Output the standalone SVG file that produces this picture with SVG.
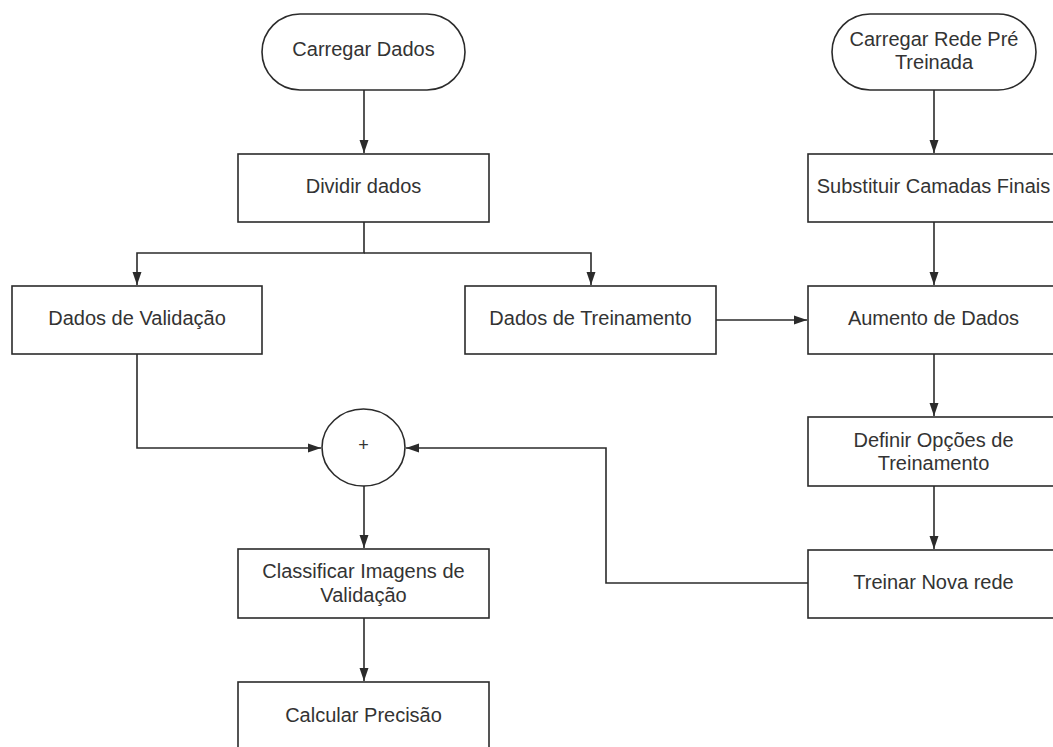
<svg xmlns="http://www.w3.org/2000/svg" width="1053" height="747" viewBox="0 0 1053 747">
<style>
.n{fill:#fff;stroke:#2b2b2b;stroke-width:1.6}
.t{font-family:"Liberation Sans",Arial,sans-serif;font-size:20px;fill:#333;text-anchor:middle}
.c{fill:none;stroke:#2b2b2b;stroke-width:1.6}
</style>
<defs>
<marker id="ah" markerUnits="userSpaceOnUse" markerWidth="14" markerHeight="14" viewBox="0 0 14 14" refX="13" refY="7" orient="auto">
<path d="M0,2.5 L13,7 L0,11.5 Z" fill="#2b2b2b"/>
</marker>
</defs>
<rect width="1053" height="747" fill="#fff"/>
<g id="connectors">
<path class="c" d="M364,90 V153" marker-end="url(#ah)"/>
<path class="c" d="M364,222 V253 H137 V285" marker-end="url(#ah)"/>
<path class="c" d="M364,253 H591 V285" marker-end="url(#ah)"/>
<path class="c" d="M716,320 H807" marker-end="url(#ah)"/>
<path class="c" d="M137,354 V448 H321" marker-end="url(#ah)"/>
<path class="c" d="M808,583 H606 V448 H406" marker-end="url(#ah)"/>
<path class="c" d="M364,486 V548" marker-end="url(#ah)"/>
<path class="c" d="M364,618 V681" marker-end="url(#ah)"/>
<path class="c" d="M934,90 V153" marker-end="url(#ah)"/>
<path class="c" d="M934,222 V285" marker-end="url(#ah)"/>
<path class="c" d="M934,354 V416" marker-end="url(#ah)"/>
<path class="c" d="M934,486 V549" marker-end="url(#ah)"/>
</g>
<g id="carregar-dados">
<rect class="n" x="262" y="14" width="203" height="76" rx="38"/>
<text class="t" x="363.5" y="56">Carregar Dados</text>
</g>
<g id="dividir-dados">
<rect class="n" x="238" y="154" width="251" height="68"/>
<text class="t" x="363.5" y="193">Dividir dados</text>
</g>
<g id="dados-validacao">
<rect class="n" x="12" y="286" width="250" height="68"/>
<text class="t" x="137" y="325">Dados de Validação</text>
</g>
<g id="dados-treinamento">
<rect class="n" x="465" y="286" width="251" height="68"/>
<text class="t" x="590.5" y="325">Dados de Treinamento</text>
</g>
<g id="soma">
<ellipse class="n" cx="363.5" cy="447.5" rx="41.5" ry="38.5"/>
<text class="t" x="363.5" y="451" style="font-size:18px">+</text>
</g>
<g id="classificar">
<rect class="n" x="238" y="549" width="251" height="69"/>
<text class="t" x="363.5" y="578">Classificar Imagens de</text>
<text class="t" x="363.5" y="602">Validação</text>
</g>
<g id="calcular">
<rect class="n" x="238" y="682" width="251" height="80"/>
<text class="t" x="363.5" y="722">Calcular Precisão</text>
</g>
<g id="carregar-rede">
<rect class="n" x="832" y="14" width="204" height="76" rx="38"/>
<text class="t" x="934" y="46">Carregar Rede Pré</text>
<text class="t" x="934" y="69">Treinada</text>
</g>
<g id="substituir">
<rect class="n" x="808" y="154" width="251" height="68"/>
<text class="t" x="933.5" y="193">Substituir Camadas Finais</text>
</g>
<g id="aumento">
<rect class="n" x="808" y="286" width="251" height="68"/>
<text class="t" x="933.5" y="325">Aumento de Dados</text>
</g>
<g id="definir">
<rect class="n" x="808" y="417" width="251" height="69"/>
<text class="t" x="933.5" y="447">Definir Opções de</text>
<text class="t" x="933.5" y="470">Treinamento</text>
</g>
<g id="treinar">
<rect class="n" x="808" y="550" width="251" height="68"/>
<text class="t" x="933.5" y="589">Treinar Nova rede</text>
</g>
</svg>
